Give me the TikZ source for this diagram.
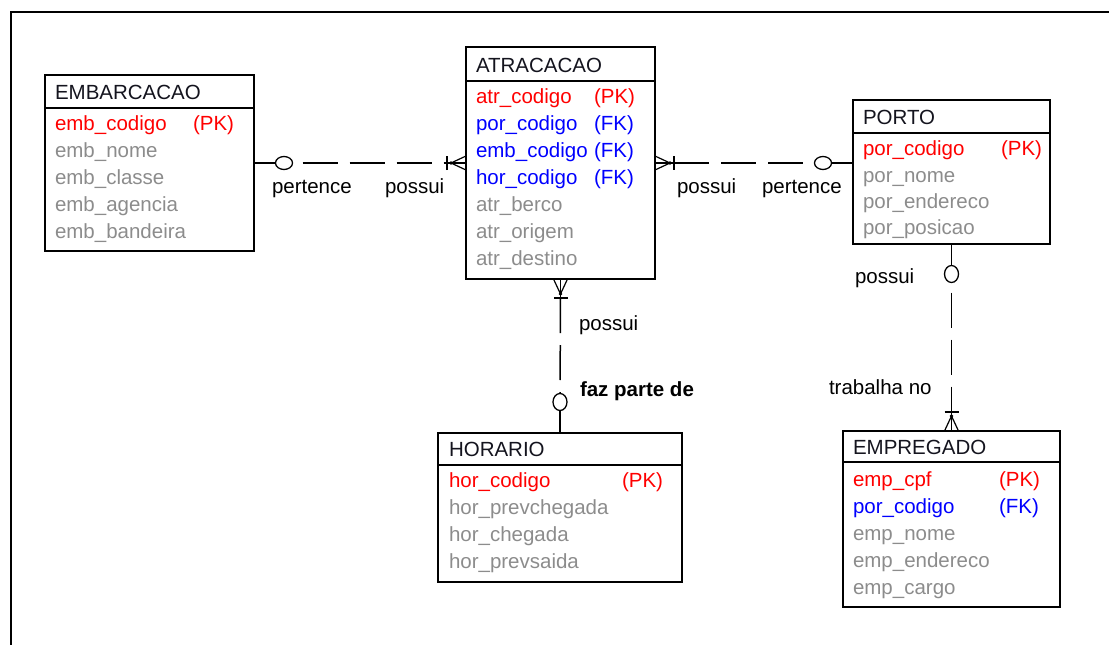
\documentclass[tikz,border=0pt]{standalone}
\usepackage{fontspec}
\setmainfont{Liberation Sans}
\usetikzlibrary{calc,shapes.geometric}
\definecolor{pkred}{RGB}{255,0,0}
\definecolor{fkblue}{RGB}{0,0,255}
\definecolor{attgray}{RGB}{140,140,140}
\definecolor{ttl}{RGB}{20,20,30}
\begin{document}
\begin{tikzpicture}[x=1pt,y=-1pt,
  every node/.style={font=\fontsize{20.5}{24}\selectfont, inner sep=0pt, outer sep=0pt},
  entity/.style={draw, line width=1.6pt, anchor=north west},
  sepline/.style={line width=1.6pt},
  ttlt/.style={anchor=base west, text=ttl},
  pk/.style={anchor=base west, text=pkred},
  fk/.style={anchor=base west, text=fkblue},
  att/.style={anchor=base west, text=attgray},
  lbl/.style={anchor=base west, text=black},
  conn/.style={line width=1.5pt},
  dashconn/.style={line width=1.5pt, dash pattern=on 35pt off 12pt},
  hcirc/.style={draw, ellipse, fill=white, line width=1.3pt, minimum width=17pt, minimum height=13pt},
  vcirc/.style={draw, ellipse, fill=white, line width=1.3pt, minimum width=14pt, minimum height=17pt},
  crowfoot/.pic={
    \draw[line width=1.2pt] (0,-7) -- (15,0) -- (0,7);
    \draw[line width=1.2pt] (0,0) -- (15,0);
    \draw[conn] (15,0) -- (19,0);
    \draw[conn] (19,-7) -- (19,7);
    \fill (15,0) circle (1.8pt);
  }]
\useasboundingbox (0,0) rectangle (1109,645);
% frame
\draw[line width=2pt] (11,646) -- (11,12) -- (1110,12);

% ---------- EMBARCACAO
\node[entity, minimum width=209pt, minimum height=176pt] (emb) at (45,75) {};
\draw[sepline] ($(emb.north west)+(0,33)$) -- ($(emb.north east)+(0,33)$);
\node[ttlt] (emb-t) at (55,99) {EMBARCACAO};
\node[pk] (emb-1) at (55,130) {emb\_codigo};
\node[pk] (emb-1k) at (193,130) {(PK)};
\node[att] (emb-2) at (55,157) {emb\_nome};
\node[att] (emb-3) at (55,184) {emb\_classe};
\node[att] (emb-4) at (55,211) {emb\_agencia};
\node[att] (emb-5) at (55,238) {emb\_bandeira};

% ---------- ATRACACAO
\node[entity, minimum width=189pt, minimum height=232pt] (atr) at (466,47) {};
\draw[sepline] ($(atr.north west)+(0,34)$) -- ($(atr.north east)+(0,34)$);
\node[ttlt] (atr-t) at (476,72) {ATRACACAO};
\node[pk] (atr-1) at (476,103) {atr\_codigo};
\node[pk] (atr-1k) at (594,103) {(PK)};
\node[fk] (atr-2) at (476,130) {por\_codigo};
\node[fk] (atr-2k) at (594,130) {(FK)};
\node[fk] (atr-3) at (476,157) {emb\_codigo};
\node[fk] (atr-3k) at (594,157) {(FK)};
\node[fk] (atr-4) at (476,184) {hor\_codigo};
\node[fk] (atr-4k) at (594,184) {(FK)};
\node[att] (atr-5) at (476,211) {atr\_berco};
\node[att] (atr-6) at (476,238) {atr\_origem};
\node[att] (atr-7) at (476,265) {atr\_destino};

% ---------- PORTO
\node[entity, minimum width=197pt, minimum height=144pt] (por) at (853,100) {};
\draw[sepline] ($(por.north west)+(0,33)$) -- ($(por.north east)+(0,33)$);
\node[ttlt] (por-t) at (863,124) {PORTO};
\node[pk] (por-1) at (863,155) {por\_codigo};
\node[pk] (por-1k) at (1001,155) {(PK)};
\node[att] (por-2) at (863,182) {por\_nome};
\node[att] (por-3) at (863,208) {por\_endereco};
\node[att] (por-4) at (863,234) {por\_posicao};

% ---------- HORARIO
\node[entity, minimum width=244pt, minimum height=149pt] (hor) at (438,433) {};
\draw[sepline] ($(hor.north west)+(0,32)$) -- ($(hor.north east)+(0,32)$);
\node[ttlt] (hor-t) at (449,456) {HORARIO};
\node[pk] (hor-1) at (449,487) {hor\_codigo};
\node[pk] (hor-1k) at (622,487) {(PK)};
\node[att] (hor-2) at (449,514) {hor\_prevchegada};
\node[att] (hor-3) at (449,541) {hor\_chegada};
\node[att] (hor-4) at (449,568) {hor\_prevsaida};

% ---------- EMPREGADO
\node[entity, minimum width=217pt, minimum height=176pt] (emp) at (843,431) {};
\draw[sepline] ($(emp.north west)+(0,31)$) -- ($(emp.north east)+(0,31)$);
\node[ttlt] (emp-t) at (853,454) {EMPREGADO};
\node[pk] (emp-1) at (853,486) {emp\_cpf};
\node[pk] (emp-1k) at (999,486) {(PK)};
\node[fk] (emp-2) at (853,513) {por\_codigo};
\node[fk] (emp-2k) at (999,513) {(FK)};
\node[att] (emp-3) at (853,540) {emp\_nome};
\node[att] (emp-4) at (853,567) {emp\_endereco};
\node[att] (emp-5) at (853,594) {emp\_cargo};

% ---------- connector 1: EMBARCACAO - ATRACACAO
\node[hcirc] (o1) at ($(emb.east)+(30,0)$) {};
\coordinate (b1) at ($(atr.west)+(-19,0)$);
\draw[conn] (emb.east) -- (o1);
\draw[dashconn, dash phase=37pt] (o1) -- (b1);
\pic[rotate=180] at (atr.west) {crowfoot};
\node[lbl] (l1a) at (272,193) {pertence};
\node[lbl] (l1b) at (385,193) {possui};

% ---------- connector 2: ATRACACAO - PORTO
\coordinate (p2) at (atr.east -| por.west);
\node[hcirc] (o2) at ($(p2)+(-30,0)$) {};
\coordinate (b2) at ($(atr.east)+(19,0)$);
\draw[conn] (p2) -- (o2);
\draw[dashconn] (b2) -- (o2);
\pic at (atr.east) {crowfoot};
\node[lbl] (l2a) at (677,193) {possui};
\node[lbl] (l2b) at (762,193) {pertence};

% ---------- connector 3: ATRACACAO - HORARIO
\node[vcirc] (o3) at ($(hor.north)+(0,-31)$) {};
\coordinate (b3) at ($(atr.south)+(0,19)$);
\draw[conn] (hor.north) -- (o3);
\draw[dashconn] (b3) -- (o3);
\pic[rotate=-90] at (atr.south) {crowfoot};
\node[lbl] (l3a) at (579,330) {possui};
\node[lbl, font=\fontsize{20.5}{24}\selectfont\bfseries] (l3b) at (580,396) {faz parte de};

% ---------- connector 4: PORTO - EMPREGADO
\node[vcirc] (o4) at ($(por.south)+(0,30)$) {};
\coordinate (b4) at ($(emp.north)+(0,-19)$);
\draw[conn] (por.south) -- (o4);
\draw[dashconn, dash phase=37pt] (o4) -- (b4);
\pic[rotate=90] at (emp.north) {crowfoot};
\node[lbl] (l4a) at (855,283) {possui};
\node[lbl] (l4b) at (829,394) {trabalha no};
\end{tikzpicture}
\end{document}
